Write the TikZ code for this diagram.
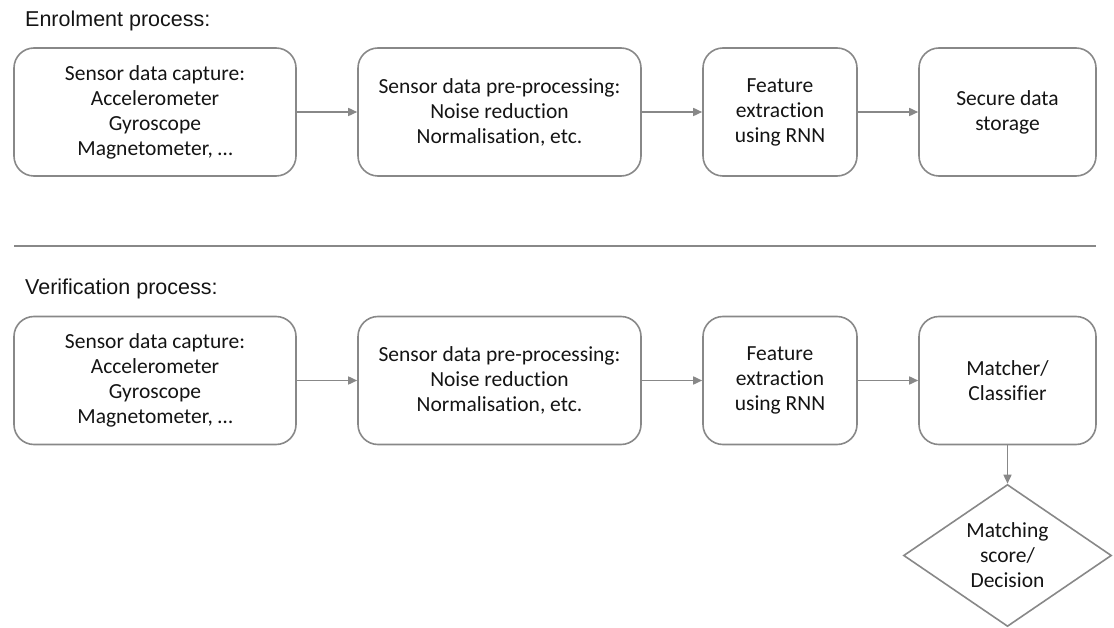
\documentclass[tikz,border=0pt]{standalone}
\usepackage{fontspec}
\setmainfont{Carlito}[Ligatures=NoCommon]
\newfontfamily\titlefont{Liberation Sans}
\usetikzlibrary{arrows.meta,shapes.geometric}
\definecolor{edgegray}{RGB}{136,136,136}
\definecolor{inkdark}{RGB}{20,20,20}

\begin{document}
\begin{tikzpicture}[x=1pt,y=-1pt,
  proc/.style={draw=edgegray,line width=1.6pt,rounded corners=20pt,align=center,inner sep=0pt,minimum height=128pt,text=inkdark,font=\fontsize{21.5}{25}\selectfont},
  dec/.style={draw=edgegray,line width=1.6pt,diamond,aspect=1.46,inner sep=0pt,minimum width=208pt,minimum height=142pt,align=center,text=inkdark,font=\fontsize{21.5}{25}\selectfont},
  ttl/.style={anchor=west,inner sep=0pt,text=inkdark,font=\titlefont\fontsize{21.5}{26}\selectfont},
  ed/.style={-{Triangle[length=9pt,width=8pt]},edgegray,line width=1.6pt}]
\useasboundingbox (0,0) rectangle (1114,628);
% enrolment row
\node[ttl] (etitle) at (25,21) {Enrolment process:};
\node[proc,minimum width=282pt] (ecap) at (155,112) {Sensor data capture:\\Accelerometer\\Gyroscope\\Magnetometer, \dots};
\node[proc,minimum width=283pt] (epre) at (499.5,112) {Sensor data pre-processing:\\Noise reduction\\Normalisation, etc.};
\node[proc,minimum width=154pt] (efeat) at (780,112) {Feature\\extraction\\using RNN};
\node[proc,minimum width=177pt] (estore) at (1007.5,112) {Secure data\\storage};
\draw[ed] (ecap) -- (epre); \draw[ed] (epre) -- (efeat); \draw[ed] (efeat) -- (estore);
% separator
\coordinate (rulel) at (14,246); \coordinate (ruler) at (1096,246);
\draw[edgegray,line width=1.6pt] (rulel) -- (ruler);
% verification row
\node[ttl] (vtitle) at (25,289) {Verification process:};
\node[proc,minimum width=282pt] (vcap) at (155,380.5) {Sensor data capture:\\Accelerometer\\Gyroscope\\Magnetometer, \dots};
\node[proc,minimum width=283pt] (vpre) at (499.5,380.5) {Sensor data pre-processing:\\Noise reduction\\Normalisation, etc.};
\node[proc,minimum width=154pt] (vfeat) at (780,380.5) {Feature\\extraction\\using RNN};
\node[proc,minimum width=177pt] (vmatch) at (1007.5,380.5) {Matcher/\\Classifier};
\node[dec] (vdec) at (1007.5,555.5) {Matching\\score/\\Decision};
\draw[ed] (vcap) -- (vpre); \draw[ed] (vpre) -- (vfeat); \draw[ed] (vfeat) -- (vmatch);
\draw[ed] (vmatch) -- (vdec);
\end{tikzpicture}
\end{document}
